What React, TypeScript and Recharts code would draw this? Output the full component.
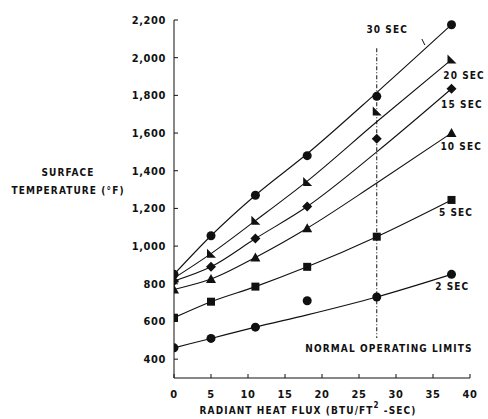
import {
  ComposedChart,
  Line,
  Scatter,
  XAxis,
  YAxis,
  ReferenceLine,
  ReferenceDot,
} from "recharts"

const FONT = "'DejaVu Sans Condensed', 'DejaVu Sans', sans-serif"
const INK = "#111"

// radiant heat flux (BTU/ft2-sec) where the points were taken
const flux = [0, 5, 11, 18, 27.4, 37.5]

// measured points (°F)
const meas2 = [460, 510, 570, 710, 730, 850]
const meas5 = [620, 705, 785, 890, 1050, 1245]
const meas10 = [770, 825, 940, 1095, null, 1600]
const meas15 = [815, 890, 1040, 1210, 1570, 1835]
const meas20 = [830, 960, 1135, 1340, 1715, 1990]
const meas30 = [850, 1055, 1270, 1480, 1795, 2175]

// faired curves through the points (°F)
const fit2 = [460, 510, 570, 635, 730, 850]
const fit5 = [620, 705, 785, 890, 1050, 1245]
const fit10 = [770, 825, 940, 1095, 1335, 1600]
const fit15 = [815, 890, 1040, 1210, 1500, 1835]
const fit20 = [830, 960, 1135, 1345, 1660, 1990]
const fit30 = [850, 1055, 1270, 1490, 1815, 2175]

const xTicks = [0, 5, 10, 15, 20, 25, 30, 35, 40]
const yTicks = [400, 600, 800, 1000, 1200, 1400, 1600, 1800, 2000, 2200]

const operatingLimit = 27.4

const toPts = (ys: (number | null)[]) =>
  flux
    .map((x, i) => ({ x, y: ys[i] }))
    .filter((p) => p.y !== null)

const Circle = (p: any) => <circle cx={p.cx} cy={p.cy} r={4.5} fill={INK} />
const Square = (p: any) => (
  <rect x={p.cx - 4} y={p.cy - 4} width={8} height={8} fill={INK} />
)
const Diamond = (p: any) => (
  <polygon
    points={`${p.cx},${p.cy - 5} ${p.cx + 5},${p.cy} ${p.cx},${p.cy + 5} ${p.cx - 5},${p.cy}`}
    fill={INK}
  />
)
const TriUp = (p: any) => (
  <polygon
    points={`${p.cx},${p.cy - 5} ${p.cx + 5},${p.cy + 4} ${p.cx - 5},${p.cy + 4}`}
    fill={INK}
  />
)
const TriCorner = (p: any) => (
  <polygon
    points={`${p.cx - 4},${p.cy - 5} ${p.cx + 5},${p.cy + 4} ${p.cx - 4},${p.cy + 4}`}
    fill={INK}
  />
)

const series = [
  { name: "2 SEC", fit: fit2, meas: meas2, shape: Circle },
  { name: "5 SEC", fit: fit5, meas: meas5, shape: Square },
  { name: "10 SEC", fit: fit10, meas: meas10, shape: TriUp },
  { name: "15 SEC", fit: fit15, meas: meas15, shape: Diamond },
  { name: "20 SEC", fit: fit20, meas: meas20, shape: TriCorner },
  { name: "30 SEC", fit: fit30, meas: meas30, shape: Circle },
]

// where the curve names sit (data coords)
const curveLabels = [
  { text: "30 SEC", x: 28.8, y: 2147 },
  { text: "20 SEC", x: 39.2, y: 1908 },
  { text: "15 SEC", x: 38.9, y: 1749 },
  { text: "10 SEC", x: 38.8, y: 1526 },
  { text: "5 SEC", x: 38.1, y: 1181 },
  { text: "2 SEC", x: 37.6, y: 783 },
]

const txt = {
  fontFamily: FONT,
  fontWeight: 700,
  fontSize: 10,
  letterSpacing: 1.1,
  fill: INK,
}

const tickTxt = { ...txt, fontSize: 11, letterSpacing: 0.6 }

const tagLabel = (text: string) => (props: any) => {
  const vb = props.viewBox
  const cx = vb.cx ?? vb.x
  const cy = vb.cy ?? vb.y
  return (
    <text x={cx} y={cy} textAnchor="middle" dominantBaseline="central" style={txt}>
      {text}
    </text>
  )
}

const YTitle = (props: any) => {
  const vb = props.viewBox
  return (
    <g>
      <text x={vb.x + 68} y={vb.y + 152} textAnchor="middle" dominantBaseline="central" style={txt}>
        SURFACE
      </text>
      <text x={vb.x + 68} y={vb.y + 170} textAnchor="middle" dominantBaseline="central" style={txt}>
        TEMPERATURE (°F)
      </text>
    </g>
  )
}

const XTitle = (props: any) => {
  const vb = props.viewBox
  return (
    <text x={vb.x + 134} y={vb.y + 32} textAnchor="middle" dominantBaseline="central" style={txt}>
      RADIANT HEAT FLUX (BTU/FT
      <tspan dy={-5} fontSize={8}>2</tspan>
      <tspan dy={5}> -SEC)</tspan>
    </text>
  )
}

export default function App() {
  return (
    <div style={{ position: "absolute", left: 0, top: 0, background: "#fff" }}>
      <ComposedChart
        width={488}
        height={419}
        margin={{ top: 20, right: 18, left: 0, bottom: 0 }}
      >
        <XAxis
          type="number"
          dataKey="x"
          domain={[0, 40]}
          ticks={xTicks}
          allowDataOverflow
          height={41}
          tickSize={-4}
          tickMargin={16}
          axisLine={{ stroke: INK, strokeWidth: 1 }}
          tickLine={{ stroke: INK }}
          tick={tickTxt}
          label={{ content: XTitle }}
        />
        <YAxis
          type="number"
          dataKey="y"
          domain={[300, 2200]}
          ticks={yTicks}
          allowDataOverflow
          width={174}
          tickSize={-4}
          tickMargin={12}
          axisLine={{ stroke: INK, strokeWidth: 1 }}
          tickLine={{ stroke: INK }}
          tick={tickTxt}
          tickFormatter={(v: number) => v.toLocaleString("en-US")}
          label={{ content: YTitle }}
        />
        <ReferenceLine
          segment={[
            { x: operatingLimit, y: 2050 },
            { x: operatingLimit, y: 512 },
          ]}
          stroke={INK}
          strokeWidth={1}
          strokeDasharray="4 2 1 2"
        />
        <ReferenceLine
          segment={[
            { x: 33.5, y: 2099 },
            { x: 33.9, y: 2067 },
          ]}
          stroke={INK}
          strokeWidth={1}
        />
        {series.map((s) => (
          <Line
            key={"l" + s.name}
            data={toPts(s.fit)}
            dataKey="y"
            type="monotone"
            stroke={INK}
            strokeWidth={1.1}
            dot={false}
            activeDot={false}
            isAnimationActive={false}
          />
        ))}
        {series.map((s) => (
          <Scatter
            key={"s" + s.name}
            data={toPts(s.meas)}
            dataKey="y"
            shape={s.shape}
            isAnimationActive={false}
          />
        ))}
        {curveLabels.map((c) => (
          <ReferenceDot
            key={c.text}
            x={c.x}
            y={c.y}
            r={0}
            ifOverflow="visible"
            label={{ content: tagLabel(c.text) }}
          />
        ))}
        <ReferenceDot
          x={29.05}
          y={454}
          r={0}
          ifOverflow="visible"
          label={{ content: tagLabel("NORMAL OPERATING LIMITS") }}
        />
      </ComposedChart>
    </div>
  )
}
